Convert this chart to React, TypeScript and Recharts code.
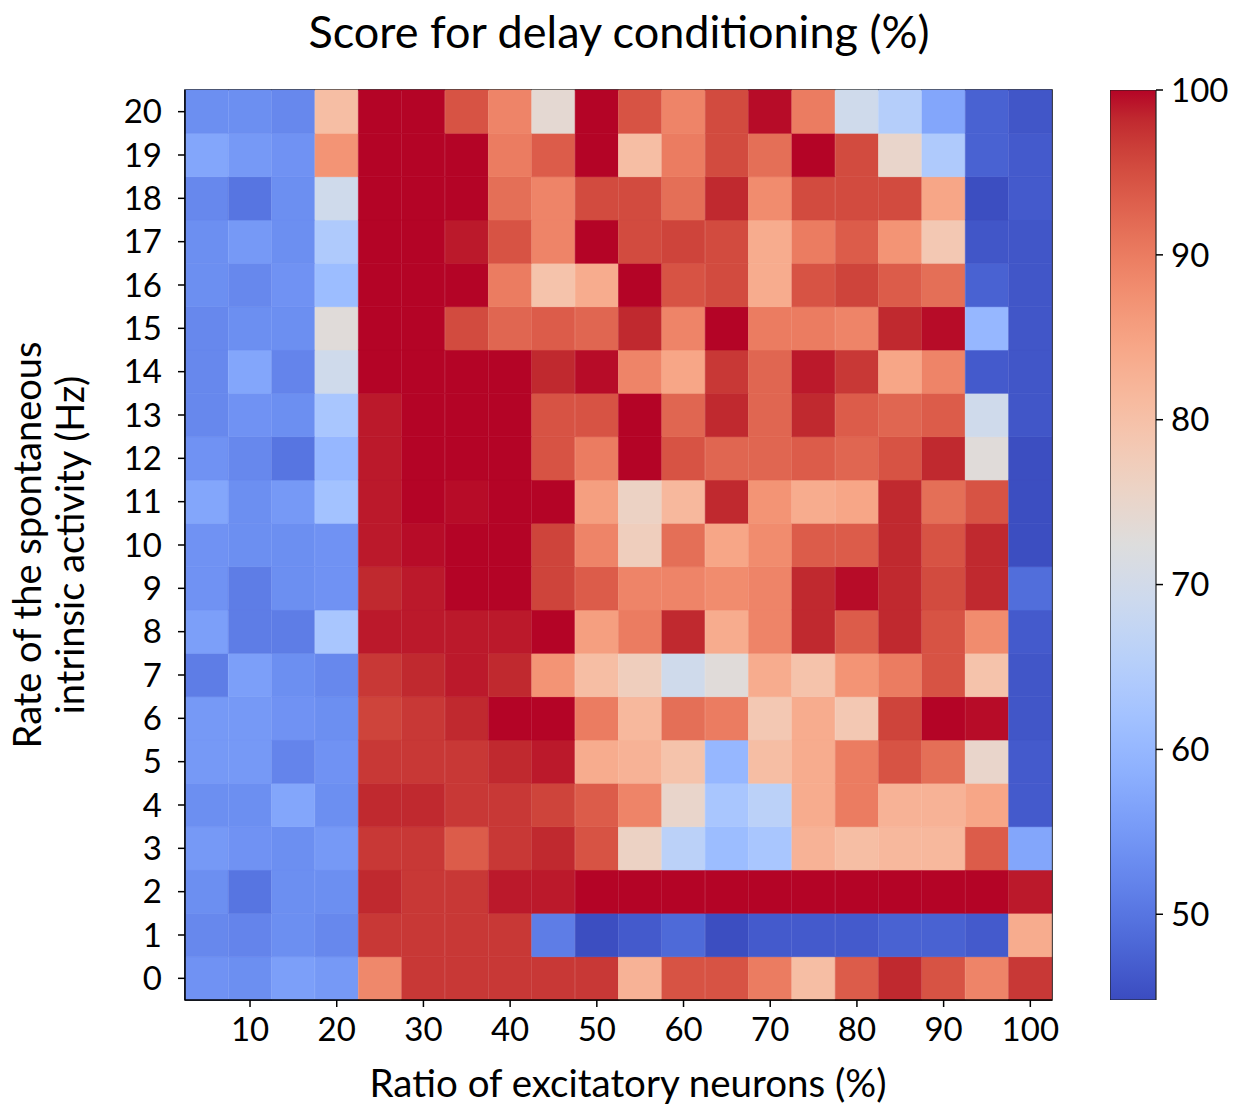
import React from 'react';
import { BarChart, Bar, XAxis, YAxis, Cell, ReferenceArea } from 'recharts';

// ---------- data ----------
const ratios = [5, 10, 15, 20, 25, 30, 35, 40, 45, 50, 55, 60, 65, 70, 75, 80, 85, 90, 95, 100];
const rates = [0, 1, 2, 3, 4, 5, 6, 7, 8, 9, 10, 11, 12, 13, 14, 15, 16, 17, 18, 19, 20];
const xTickValues = [10, 20, 30, 40, 50, 60, 70, 80, 90, 100];
const colorbarTicks = [50, 60, 70, 80, 90, 100];
const vmin = 44.8;
const vmax = 100;

const title = 'Score for delay conditioning (%)';
const xLabel = 'Ratio of excitatory neurons (%)';
const yLabelLines = ['Rate of the spontaneous', 'intrinsic activity (Hz)'];

// scores per rate (Hz), one value per excitatory ratio column
const hz0 = [54, 53.5, 56, 55, 88.5, 97, 97, 97, 97, 97, 82.5, 94.5, 94.5, 90, 80.5, 93.5, 98.2, 94.5, 89, 97];
const hz1 = [52.5, 52, 53.5, 52.5, 97, 97, 97, 97, 51, 45, 46.5, 48.5, 45, 46.5, 46.5, 46.5, 47.5, 47.5, 46.5, 83.5];
const hz2 = [53.5, 50, 53.5, 53.5, 98.2, 97, 97, 99, 99, 100, 100, 100, 100, 100, 100, 100, 100, 100, 100, 99];
const hz3 = [55, 54, 53.5, 55, 97, 97, 93.5, 97, 98.2, 94.5, 76, 66, 61, 63, 82.5, 80.5, 81.5, 81.5, 93.5, 57];
const hz4 = [53.5, 53.5, 57, 53.5, 98.2, 98.2, 97, 97, 96, 93.5, 89, 75, 63, 66, 83.5, 90, 82.5, 82.5, 84.5, 46.5];
const hz5 = [55, 55, 52, 54, 97, 97, 97, 98.2, 99, 83.5, 82.5, 79.5, 60, 80.5, 83.5, 90, 94.5, 91.5, 75, 46.5];
const hz6 = [55, 55, 54, 53.5, 96, 97, 98.2, 100, 100, 90, 81.5, 91.5, 90, 78.5, 83.5, 78.5, 96, 100, 99.6, 46];
const hz7 = [51, 56, 53.5, 52.5, 97, 98.2, 99, 98.2, 87, 80.5, 77, 69.5, 73, 83.5, 79.5, 87, 90, 94.5, 79.5, 46];
const hz8 = [56, 51, 51, 63, 99, 99, 99, 99, 100, 85.5, 90, 98.2, 83.5, 89, 98.2, 93.5, 98.2, 94.5, 88, 46.5];
const hz9 = [54, 51, 53.5, 54, 98.2, 99, 100, 100, 96, 93.5, 89, 89, 88, 89, 98.2, 99.6, 98.2, 95.3, 98.2, 49];
const hz10 = [54, 53.5, 53.5, 54, 99, 99.6, 100, 100, 96, 89, 77, 91.5, 84.5, 88, 93.5, 93.5, 98.2, 94.5, 98.2, 45];
const hz11 = [57, 53.5, 55, 62, 99, 100, 99.6, 100, 100, 85.5, 76, 81.5, 98.2, 87, 83.5, 84.5, 98.2, 91.5, 94.5, 45];
const hz12 = [54, 52.5, 50, 60, 99, 100, 100, 100, 94.5, 90, 100, 94.5, 92.5, 92.5, 93.5, 92.5, 94.5, 98.2, 73, 45];
const hz13 = [52.5, 54, 53.5, 63, 99, 100, 100, 100, 94.5, 94.5, 100, 92.5, 98.2, 92.5, 98.2, 93.5, 92.5, 93.5, 69.5, 46];
const hz14 = [52.5, 57, 52, 69.5, 100, 100, 100, 100, 98.2, 99.6, 89, 84.5, 97, 92.5, 99, 97, 84.5, 89, 46.5, 46];
const hz15 = [52.5, 53.5, 53.5, 73, 100, 100, 95.3, 92.5, 93.5, 92.5, 98.2, 89, 100, 90, 90, 89, 98.2, 99.6, 60, 46];
const hz16 = [53.5, 52.5, 54, 61, 100, 100, 100, 90, 79.5, 83.5, 100, 94.5, 95.3, 83.5, 94.5, 96, 93.5, 91.5, 47.5, 46];
const hz17 = [53.5, 55, 53.5, 64, 100, 100, 99, 94.5, 89, 100, 95.3, 96, 95.3, 83.5, 90, 93.5, 87, 78.5, 46, 46];
const hz18 = [52.5, 50, 53.5, 69.5, 100, 100, 100, 91.5, 89, 95.3, 95.3, 91.5, 98.2, 88, 95.3, 95.3, 95.3, 84.5, 45, 46.5];
const hz19 = [57, 55, 54, 87, 100, 100, 100, 90, 93.5, 100, 80.5, 90, 95.3, 91.5, 100, 95.3, 75, 64, 47.5, 46.5];
const hz20 = [53.5, 53.5, 52.5, 80.5, 100, 100, 94.5, 89, 74, 100, 94.5, 89, 95.3, 99.6, 90, 69.5, 65, 57, 47.5, 46];

const scoreRows = [hz0, hz1, hz2, hz3, hz4, hz5, hz6, hz7, hz8, hz9, hz10, hz11, hz12, hz13, hz14, hz15, hz16, hz17, hz18, hz19, hz20];

// ---------- coolwarm colormap ----------
const CW: number[][] = [
  [59, 76, 192], [68, 90, 204], [77, 104, 215], [87, 117, 225], [98, 130, 234], [108, 142, 241],
  [119, 154, 247], [130, 165, 251], [141, 176, 254], [152, 185, 255], [163, 194, 255], [174, 201, 253],
  [184, 208, 249], [194, 213, 244], [204, 217, 238], [213, 219, 230], [221, 221, 221], [229, 216, 209],
  [236, 211, 197], [241, 204, 185], [245, 196, 173], [247, 187, 160], [247, 177, 148], [247, 166, 135],
  [244, 154, 123], [241, 141, 111], [236, 127, 99], [229, 112, 88], [222, 96, 77], [213, 80, 66],
  [203, 62, 56], [192, 40, 47], [180, 4, 38],
];
const rgb = (c: number[]) => `rgb(${Math.round(c[0])},${Math.round(c[1])},${Math.round(c[2])})`;
function coolwarm(v: number): string {
  let t = (v - vmin) / (vmax - vmin);
  t = Math.max(0, Math.min(1, t));
  const p = t * (CW.length - 1);
  const i = Math.min(Math.floor(p), CW.length - 2);
  const f = p - i;
  const a = CW[i];
  const b = CW[i + 1];
  return rgb([a[0] + (b[0] - a[0]) * f, a[1] + (b[1] - a[1]) * f, a[2] + (b[2] - a[2]) * f]);
}

// table for the stacked-bar heatmap: each rate row is a unit-height segment
const tableData = ratios.map((r) => {
  const o: Record<string, number> = { ratio: r };
  rates.forEach((h) => {
    o['h' + h] = 1;
  });
  return o;
});
const colorbarData = [{ name: 'cb', range: [vmin, vmax] }];

const FONT = 'Lato, "Open Sans", sans-serif';
const tickStyle = { fontSize: 33, fill: '#000', fontFamily: FONT };

export default function App() {
  return (
    <div style={{ position: 'absolute', left: 0, top: 0, width: 1234, height: 1105, background: '#fff' }}>
      <svg width={1234} height={70} style={{ position: 'absolute', left: 0, top: 0 }}>
        <text x={619} y={48} textAnchor="middle" fontSize={45} fontFamily={FONT} fill="#000">
          {title}
        </text>
      </svg>
      <div style={{ position: 'absolute', left: 0, top: 0 }}>
        <BarChart
          width={1090}
          height={1105}
          data={tableData}
          margin={{ top: 90, right: 38, bottom: 0, left: 0 }}
          barCategoryGap={0}
          barGap={0}
        >
          <XAxis
            dataKey="ratio"
            type="category"
            ticks={xTickValues}
            height={105}
            tick={tickStyle}
            tickSize={7}
            tickMargin={11}
            tickLine={{ stroke: '#000', strokeWidth: 1.5 }}
            axisLine={{ stroke: '#000', strokeWidth: 1.5 }}
            label={() => (
              <text x={628} y={1097} textAnchor="middle" fontSize={38.5} fontFamily={FONT} fill="#000">
                {xLabel}
              </text>
            )}
          />
          <YAxis
            type="number"
            domain={[0, rates.length]}
            ticks={rates.map((h) => h + 0.5)}
            tickFormatter={(v: number) => String(v - 0.5)}
            interval={0}
            width={185}
            tick={tickStyle}
            tickSize={7}
            tickMargin={16}
            tickLine={{ stroke: '#000', strokeWidth: 1.5 }}
            axisLine={{ stroke: '#000', strokeWidth: 1.5 }}
            label={() => (
              <g>
                {yLabelLines.map((line, i) => (
                  <text
                    key={i}
                    x={41 + i * 43}
                    y={545}
                    textAnchor="middle"
                    fontSize={38}
                    fontFamily={FONT}
                    fill="#000"
                    transform={`rotate(-90, ${41 + i * 43}, 545)`}
                  >
                    {line}
                  </text>
                ))}
              </g>
            )}
          />
          {rates.map((h) => (
            <Bar key={h} dataKey={'h' + h} stackId="cells" isAnimationActive={false}>
              {ratios.map((r, ci) => {
                const c = coolwarm(scoreRows[h][ci]);
                return <Cell key={r} fill={c} stroke={c} strokeWidth={0.6} />;
              })}
            </Bar>
          ))}
          <ReferenceArea y1={0} y2={rates.length} fill="none" fillOpacity={0} stroke="#000" strokeWidth={1.5} ifOverflow="visible" />
        </BarChart>
      </div>
      <div style={{ position: 'absolute', left: 1110, top: 0 }}>
        <BarChart
          width={124}
          height={1105}
          data={colorbarData}
          margin={{ top: 90, right: 0, bottom: 105, left: 0 }}
          barCategoryGap={0}
        >
          <defs>
            <linearGradient id="cwGrad" x1="0" y1="1" x2="0" y2="0">
              {CW.map((c, i) => (
                <stop key={i} offset={i / (CW.length - 1)} stopColor={rgb(c)} />
              ))}
            </linearGradient>
          </defs>
          <XAxis dataKey="name" hide height={0} />
          <YAxis
            orientation="right"
            type="number"
            domain={[vmin, vmax]}
            ticks={colorbarTicks}
            allowDataOverflow
            width={78}
            tick={tickStyle}
            tickSize={7}
            tickMargin={8}
            tickLine={{ stroke: '#000', strokeWidth: 1.5 }}
            axisLine={false}
          />
          <Bar dataKey="range" fill="url(#cwGrad)" stroke="#222" strokeWidth={1.2} isAnimationActive={false} />
        </BarChart>
      </div>
    </div>
  );
}
